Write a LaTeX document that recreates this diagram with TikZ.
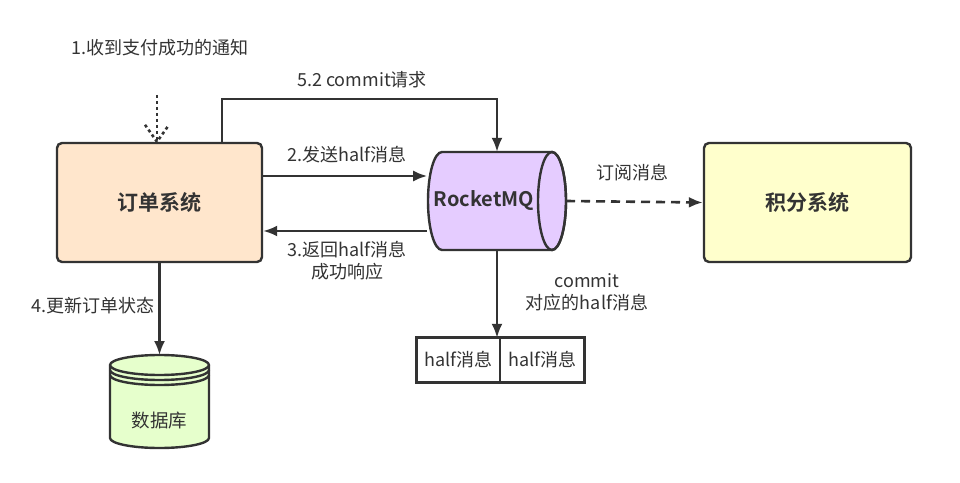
\documentclass[tikz,border=0pt]{standalone}
\usepackage{fontspec}
\setmainfont{Noto Sans CJK SC}[BoldFont={Noto Sans CJK SC Bold}]
\usetikzlibrary{arrows.meta, positioning}

\definecolor{linegray}{HTML}{333333}
\definecolor{orderfill}{HTML}{FFE6CC}
\definecolor{pointsfill}{HTML}{FFFFCC}
\definecolor{mqfill}{HTML}{E5CCFF}
\definecolor{dbfill}{HTML}{E6FFCC}

\tikzset{
  sysbox/.style={draw=linegray, line width=2.4pt, rounded corners=5pt, minimum width=205pt, minimum height=119pt, font=\fontsize{21}{25}\selectfont\bfseries},
  lbl/.style={font=\fontsize{18}{22}\selectfont, align=center},
  halfcell/.style={minimum height=44pt, inner sep=0pt, font=\fontsize{18}{22}\selectfont},
  conn/.style={draw=linegray, line width=2.3pt},
  shapeline/.style={draw=linegray, line width=2.4pt},
}

\begin{document}
\begin{tikzpicture}[x=1pt, y=1pt, >={Latex[length=14pt, width=11pt]}, text=linegray]
\useasboundingbox (0,0) rectangle (960,482);

% systems
\node[sysbox, fill=orderfill] (order) at (159.5,279.5) {订单系统};
\node[sysbox, fill=pointsfill, minimum width=207pt] (points) at (807.5,279.5) {积分系统};

% RocketMQ cylinder
\filldraw[shapeline, fill=mqfill] (552,330) -- (442,330) arc[start angle=90, end angle=270, x radius=14pt, y radius=49pt] -- (552,232) arc[start angle=-90, end angle=90, x radius=14pt, y radius=49pt] -- cycle;
\draw[shapeline] (552,281) ellipse[x radius=14pt, y radius=49pt];
\node[font=\fontsize{20}{24}\selectfont\bfseries, minimum height=98pt, inner xsep=6.5pt] (mq) at (484,281) {RocketMQ};

% database
\filldraw[shapeline, fill=dbfill] (110,117) -- (110,44) arc[start angle=180, end angle=360, x radius=49.5pt, y radius=10pt] -- (209,117) arc[start angle=0, end angle=180, x radius=49.5pt, y radius=10pt] -- cycle;
\draw[shapeline] (110,117) arc[start angle=180, end angle=360, x radius=49.5pt, y radius=10pt];
\draw[shapeline] (110,112) arc[start angle=180, end angle=360, x radius=49.5pt, y radius=10pt];
\draw[shapeline] (110,107) arc[start angle=180, end angle=360, x radius=49.5pt, y radius=10pt];
\node[font=\fontsize{18.5}{22}\selectfont] (db) at (159.5,61) {数据库};
\coordinate (dbtop) at (159.5,127);

% half messages
\node[halfcell, minimum width=83pt] (halfA) at (458.5,122) {half消息};
\node[halfcell, minimum width=84pt, right=0pt of halfA] (halfB) {half消息};
\draw[linegray, line width=2pt] (halfA.north east) -- (halfA.south east);
\draw[linegray, line width=3pt] (halfA.south west) rectangle (halfB.north east);

% connectors
\coordinate (mqin) at ([xshift=13pt] mq.north);
\coordinate (mqout) at ([xshift=13pt] mq.south);
\coordinate (mqright) at (566,281);
\coordinate (pay) at (157,387);
\coordinate (payend) at ([xshift=-2.5pt] order.north);

\draw[conn, ->] ([yshift=26.5pt] order.east) -- ([yshift=25pt] mq.west);
\draw[conn, ->] ([yshift=-30pt] mq.west) -- ([yshift=-28.5pt] order.east);
\draw[conn, ->] ([xshift=62.5pt] order.north) |- ([yshift=53pt] mqin) -- (mqin);
\draw[conn, ->, line width=2.6pt, dash pattern=on 9pt off 6pt] (mqright) -- (points.west);
\draw[conn, ->] (mqout) -- (mqout |- halfA.north);
\draw[conn, ->] (order.south) -- (dbtop);
\draw[conn, line width=2.6pt, dash pattern=on 3pt off 3pt] (pay) -- (payend);
\draw[conn, line width=2.6pt, dash pattern=on 3pt off 3pt] ([shift={(-12,17)}] payend) -- (payend) -- ([shift={(12,17)}] payend);

% labels
\node[lbl] (notice) at (160,434) {1.收到支付成功的通知};
\node[lbl] (commitreq) at (362,402) {5.2 commit请求};
\node[lbl] (send) at (347,327) {2.发送half消息};
\node[lbl] (ack) at (347,221) {3.返回half消息\\成功响应};
\node[lbl] (sub) at (632,309) {订阅消息};
\node[lbl] (commit) at (587,190) {commit\\对应的half消息};
\node[lbl] (update) at (93,176) {4.更新订单状态};
\end{tikzpicture}
\end{document}
